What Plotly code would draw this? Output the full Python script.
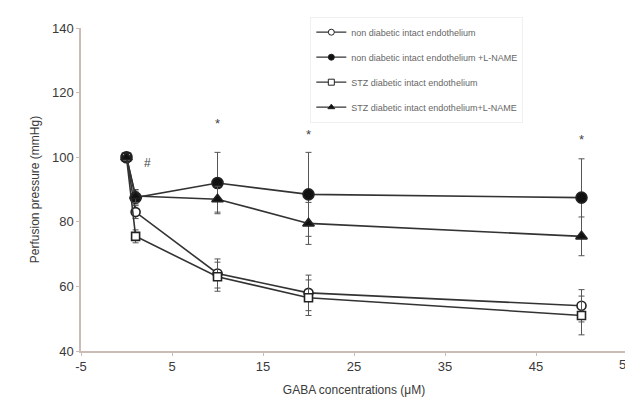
import plotly.graph_objects as go

x_vals = [0, 1, 10, 20, 50]

names = [
    "non diabetic intact endothelium",
    "non diabetic intact endothelium +L-NAME",
    "STZ diabetic intact endothelium",
    "STZ diabetic intact endothelium+L-NAME",
]
nd_intact = [100, 83, 64, 58, 54]
nd_lname = [100, 87.5, 92, 88.5, 87.5]
stz_intact = [100, 75.5, 63, 56.5, 51]
stz_lname = [100, 88, 87, 79.5, 75.5]

nd_intact_err = [0, 2, 4.5, 5.5, 5]
nd_lname_err = [0, 2, 9.5, 13, 12]
stz_intact_err = [0, 2, 4.5, 5.5, 6]
stz_lname_err = [0, 2, 4, 6.5, 6]

x_ticks = [-5, 5, 15, 25, 35, 45, 55]
x_tick_text = ["-5", "5", "15", "25", "35", "45", ""]
last_x_tick = 55
last_x_label = "55"
y_ticks = [40, 60, 80, 100, 120, 140]

star_x = [10, 20, 50]
star_y = [110, 106.5, 105]
hash_x = [2.3]
hash_y = [98]

series = [
    (names[0], nd_intact, nd_intact_err, "circle", "white", 9),
    (names[1], nd_lname, nd_lname_err, "circle", "#111111", 11),
    (names[2], stz_intact, stz_intact_err, "square", "white", 8),
    (names[3], stz_lname, stz_lname_err, "triangle-up", "#111111", 10),
]

fig = go.Figure()
for i, (nm, ys, err, sym, fill, sz) in enumerate(series):
    fig.add_trace(go.Scatter(
        x=x_vals, y=ys, name=nm, mode="lines+markers",
        showlegend=False,
        line=dict(color="#333333", width=1.6),
        marker=dict(symbol=sym, size=sz, color=fill,
                    line=dict(color="#222222", width=1.6)),
        error_y=dict(type="data", array=err, visible=True, color="#555555",
                     thickness=1, width=3),
    ))

# legend entries with small symbols, as in the original
for i, (nm, ys, err, sym, fill, sz) in enumerate(series):
    fig.add_trace(go.Scatter(
        x=[None], y=[None], name=nm, mode="lines+markers",
        legendgroup=str(i), showlegend=True,
        line=dict(color="#333333", width=1.3),
        marker=dict(symbol=sym, size=6, color=fill,
                    line=dict(color="#222222", width=1)),
    ))

fig.add_trace(go.Scatter(x=star_x, y=star_y, mode="text", text=["*"] * len(star_x),
                         textfont=dict(size=13, color="#444444", family="Liberation Sans"),
                         showlegend=False, hoverinfo="skip"))
fig.add_trace(go.Scatter(x=hash_x, y=hash_y, mode="text", text=["#"],
                         textfont=dict(size=12, color="#444444", family="Liberation Sans"),
                         showlegend=False, hoverinfo="skip"))

# last x tick label drawn as an annotation so it is not clipped at the page edge
fig.add_annotation(x=last_x_tick, xref="x", y=0, yref="paper", yanchor="top",
                   xanchor="right", xshift=8, yshift=-4, showarrow=False,
                   text=last_x_label, font=dict(size=13, color="#3a3a3a"))

fig.update_layout(
    width=633, height=403,
    margin=dict(l=73, r=14, t=20, b=60, autoexpand=False),
    paper_bgcolor="white", plot_bgcolor="white",
    font=dict(family="Liberation Sans", color="#444444"),
    legend=dict(x=0.42, y=1.035, xanchor="left", yanchor="top",
                font=dict(size=9, color="#666666"),
                bgcolor="rgba(255,255,255,0)", bordercolor="#f0f0f0", borderwidth=1,
                tracegroupgap=6, itemwidth=30),
    showlegend=True,
)
fig.update_xaxes(range=[-5, 55], tickvals=x_ticks, ticktext=x_tick_text,
                 showgrid=False, zeroline=False, showline=True, linecolor="#cbbcb5",
                 linewidth=1.5, ticks="outside", ticklen=3, tickcolor="#cbbcb5",
                 tickfont=dict(size=13, color="#3a3a3a"),
                 title=dict(text="GABA concentrations (μM)", font=dict(size=12, color="#3a3a3a"), standoff=12))
fig.update_yaxes(range=[40, 140], tickvals=y_ticks,
                 showgrid=False, zeroline=False, showline=True, linecolor="#cbbcb5",
                 linewidth=1.5, ticks="outside", ticklen=3, tickcolor="#cbbcb5",
                 tickfont=dict(size=13, color="#3a3a3a"),
                 title=dict(text="Perfusion pressure (mmHg)", font=dict(size=12, color="#3a3a3a"), standoff=10))

fig.write_html("out.html")
